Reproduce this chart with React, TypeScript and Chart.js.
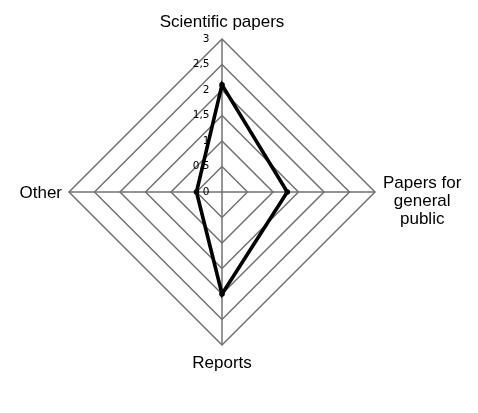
import React, { useEffect, useRef } from 'react';
import { Chart, registerables } from 'chart.js';

Chart.register(...registerables);

// categories, clockwise from the top
const CATEGORIES: (string | string[])[] = [
  'Scientific papers',
  ['Papers for', 'general', 'public'],
  'Reports',
  'Other',
];
const SERIES_VALUES = [2.1, 1.28, 2.0, 0.5];
const TICK_VALUES = [0, 0.5, 1, 1.5, 2, 2.5, 3];
const TICK_LABELS = ['0', '0,5', '1', '1,5', '2', '2,5', '3'];

const GRID_COLOR = '#727272';
const LABEL_FONT = '17px "Liberation Sans", Arial, sans-serif';
const TICK_FONT = '10.5px "DejaVu Sans", sans-serif';

// draws the tick numbers (including the 0 that Chart.js skips) and the axis names
const axisTextPlugin = {
  id: 'axisText',
  afterDraw(chart: any) {
    const scale = chart.scales.r;
    const ctx: CanvasRenderingContext2D = chart.ctx;
    ctx.save();
    ctx.fillStyle = '#000';

    ctx.font = TICK_FONT;
    ctx.textAlign = 'right';
    ctx.textBaseline = 'middle';
    scale.ticks.forEach((t: any) => {
      const y = scale.yCenter - scale.getDistanceFromCenterForValue(t.value);
      ctx.fillText(String(t.label), scale.xCenter - 12.5, y);
    });

    ctx.font = LABEL_FONT;
    ctx.textBaseline = 'alphabetic';
    const lh = 18;
    CATEGORIES.forEach((label, i) => {
      const lines = Array.isArray(label) ? label : [label];
      const p = scale.getPointPosition(i, scale.drawingArea);
      const cos = Math.cos(p.angle);
      const sin = Math.sin(p.angle);
      if (Math.abs(cos) < 0.01) {
        ctx.textAlign = 'center';
        if (sin < 0) {
          lines.forEach((l, k) => ctx.fillText(l, p.x, p.y - 12.3 - (lines.length - 1 - k) * lh));
        } else {
          lines.forEach((l, k) => ctx.fillText(l, p.x, p.y + 22.7 + k * lh));
        }
      } else {
        const widths = lines.map((l) => ctx.measureText(l).width);
        const maxW = Math.max(...widths);
        const y0 = p.y + 5.5 - (lines.length - 1) * 5;
        ctx.textAlign = 'center';
        const cx = cos > 0 ? p.x + 8 + maxW / 2 : p.x - 7 - maxW / 2;
        lines.forEach((l, k) => ctx.fillText(l, cx, y0 + k * lh));
      }
    });
    ctx.restore();
  },
};

function RadarChart() {
  const canvasRef = useRef<HTMLCanvasElement>(null);
  const chartRef = useRef<Chart | null>(null);

  useEffect(() => {
    if (!canvasRef.current) return;
    if (chartRef.current) chartRef.current.destroy();

    chartRef.current = new Chart(canvasRef.current, {
      type: 'radar',
      data: {
        labels: CATEGORIES.map((c) => (Array.isArray(c) ? c.join(' ') : c)),
        datasets: [
          {
            label: 'Series',
            data: SERIES_VALUES,
            borderColor: '#000',
            backgroundColor: '#000',
            borderWidth: 3.6,
            fill: false,
            pointRadius: 2.8,
            pointBackgroundColor: '#000',
            pointBorderWidth: 0,
          },
        ],
      },
      options: {
        responsive: true,
        maintainAspectRatio: false,
        animation: false,
        layout: { padding: { left: 69, right: 103, top: 39, bottom: 68 } },
        plugins: {
          legend: { display: false },
          tooltip: { enabled: false },
        },
        scales: {
          r: {
            min: TICK_VALUES[0],
            max: TICK_VALUES[TICK_VALUES.length - 1],
            ticks: {
              stepSize: TICK_VALUES[1] - TICK_VALUES[0],
              display: false,
              callback: (v: any) => {
                const idx = TICK_VALUES.indexOf(Number(v));
                return idx >= 0 ? TICK_LABELS[idx] : String(v);
              },
            },
            grid: { color: GRID_COLOR, lineWidth: 1.5, circular: false },
            angleLines: { display: true, color: GRID_COLOR, lineWidth: 1.5 },
            pointLabels: { display: false },
          },
        },
      },
      plugins: [axisTextPlugin],
    });

    return () => {
      if (chartRef.current) {
        chartRef.current.destroy();
        chartRef.current = null;
      }
    };
  }, []);

  return (
    <div style={{ position: 'fixed', left: 0, top: 0, width: 478, height: 413, background: '#fff' }}>
      <canvas ref={canvasRef}></canvas>
    </div>
  );
}

export default function App() {
  return <RadarChart />;
}
